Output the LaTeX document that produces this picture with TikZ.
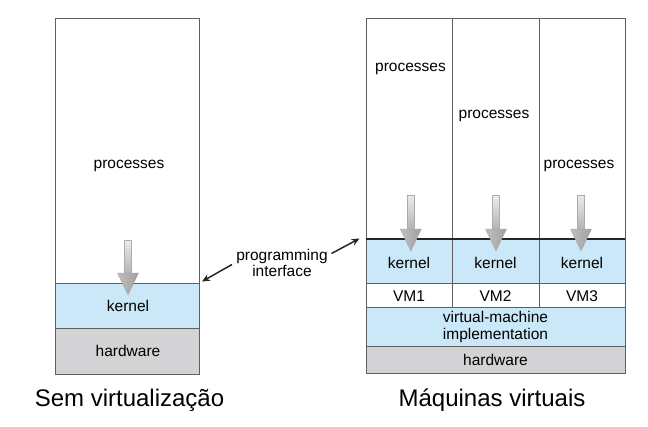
\documentclass[tikz,border=0pt]{standalone}
\usepackage{fontspec}
\setmainfont{Liberation Sans}
\usetikzlibrary{arrows.meta}
\definecolor{kblue}{RGB}{202,232,247}
\definecolor{hwgray}{RGB}{211,211,213}
\definecolor{edge}{RGB}{95,95,95}
\tikzset{
  region/.style={draw=edge, line width=0.8bp, inner sep=0pt, outer sep=0pt, anchor=north west},
  lbl/.style={font=\fontsize{15.5bp}{17bp}\selectfont, inner sep=0pt},
  ttl/.style={font=\fontsize{24bp}{28bp}\selectfont, inner sep=0pt, anchor=base},
  pointer/.style={-{Stealth[length=8bp,width=7bp]}, line width=1.5bp, black!85},
}
\newcommand{\downarrowshape}[3]{% x, top y, tip y
  \shade[top color=gray!15, bottom color=gray!60, draw=gray!65, line width=0.4bp]
    (#1-3.5,#2) rectangle (#1+3.5,#3-21);
  \shade[left color=gray!50, right color=gray!75, draw=gray!70, line width=0.4bp]
    (#1-10.5,#3-22) -- (#1+10.5,#3-22) -- (#1,#3) -- cycle;
}
\begin{document}
\begin{tikzpicture}[x=1bp,y=-1bp]
\useasboundingbox (0,0) rectangle (648,426);
% ---------- left stack ----------
\node[region, fill=white, minimum width=144bp, minimum height=264.5bp] (lproc) at (55,18.5) {};
\node[region, fill=kblue, minimum width=144bp, minimum height=45bp] (lkern) at (55,283) {};
\node[region, fill=hwgray, minimum width=144bp, minimum height=46bp] (lhw) at (55,328) {};
\node[lbl] (lproctxt) at (129,166) {processes};
\node[lbl] (lkerntxt) at (128,305.5) {kernel};
\node[lbl] (lhwtxt) at (128,351) {hardware};
\downarrowshape{128}{240}{295}
% ---------- right stack ----------
\node[region, fill=white, minimum width=86bp, minimum height=220.5bp] (p1) at (366,18.5) {};
\node[region, fill=white, minimum width=87bp, minimum height=220.5bp] (p2) at (452,18.5) {};
\node[region, fill=white, minimum width=86bp, minimum height=220.5bp] (p3) at (539,18.5) {};
\node[region, fill=kblue, minimum width=86bp, minimum height=44bp] (k1) at (366,239) {};
\node[region, fill=kblue, minimum width=87bp, minimum height=44bp] (k2) at (452,239) {};
\node[region, fill=kblue, minimum width=86bp, minimum height=44bp] (k3) at (539,239) {};
\node[region, fill=white, minimum width=86bp, minimum height=24bp] (v1) at (366,283) {};
\node[region, fill=white, minimum width=87bp, minimum height=24bp] (v2) at (452,283) {};
\node[region, fill=white, minimum width=86bp, minimum height=24bp] (v3) at (539,283) {};
\node[region, fill=kblue, minimum width=259bp, minimum height=39bp] (vmi) at (366,307) {};
\node[region, fill=hwgray, minimum width=259bp, minimum height=27.5bp] (rhw) at (366,346) {};
\draw[line width=2.4bp, black!85] (p1.south west) -- (p3.south east);
\node[lbl] (t1) at (410.5,69) {processes};
\node[lbl] (t2) at (494,116) {processes};
\node[lbl] (t3) at (579,166) {processes};
\node[lbl] (kt1) at (409,262.5) {kernel};
\node[lbl] (kt2) at (495.5,262.5) {kernel};
\node[lbl] (kt3) at (582,262.5) {kernel};
\node[lbl] (vt1) at (409,296) {VM1};
\node[lbl] (vt2) at (495.5,296) {VM2};
\node[lbl] (vt3) at (582,296) {VM3};
\node[lbl, align=center] (vmitxt) at (495.5,326.5) {virtual-machine\\[0bp]implementation};
\node[lbl] (rhwtxt) at (495.5,359.5) {hardware};
\downarrowshape{410.8}{195}{251}
\downarrowshape{496}{195}{251}
\downarrowshape{581}{195}{251}
% ---------- programming interface ----------
\node[lbl, align=center] (api) at (282,263) {programming\\[-1bp]interface};
\coordinate (la) at (232,264.5);
\coordinate (lt) at (202,281.5);
\coordinate (ra) at (331.5,253.5);
\coordinate (rt) at (359.5,238.5);
\draw[pointer] (la) -- (lt);
\draw[pointer] (ra) -- (rt);
% ---------- titles ----------
\node[ttl] (ltitle) at (129.5,406.5) {Sem virtualização};
\node[ttl] (rtitle) at (492,406.5) {Máquinas virtuais};
\end{tikzpicture}
\end{document}
